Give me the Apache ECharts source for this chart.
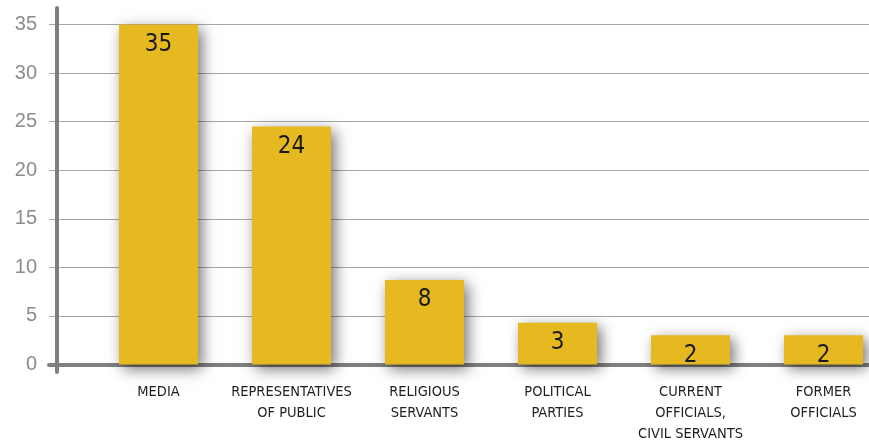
<!DOCTYPE html>
<html>
<head>
<meta charset="utf-8">
<script src="https://cdn.jsdelivr.net/npm/echarts@6/dist/echarts.min.js"></script>
<style>
html,body{margin:0;padding:0;background:#fff;}
#chart{width:869px;height:445px;}
</style>
</head>
<body>
<div id="chart"></div>
<script>
const categories = ['MEDIA', 'REPRESENTATIVES\nOF PUBLIC', 'RELIGIOUS\nSERVANTS', 'POLITICAL\nPARTIES', 'CURRENT\nOFFICIALS,\nCIVIL SERVANTS', 'FORMER\nOFFICIALS'];
const barValues = [35, 24.5, 8.7, 4.3, 3.0, 3.0];
const barLabels = ['35', '24', '8', '3', '2', '2'];
const yMin = 0, yMax = 35, yStep = 5;

const narrow = "'Liberation Sans Narrow', 'DejaVu Sans Condensed', sans-serif";
const chart = echarts.init(document.getElementById('chart'));
chart.setOption({
  animation: false,
  backgroundColor: '#ffffff',
  grid: [
    { left: 92, width: 798, top: 24.5, height: 340, outerBoundsMode: 'none', containLabel: false },
    { left: 49, right: 0, top: 24.5, height: 340, outerBoundsMode: 'none', containLabel: false },
    { left: 57, width: 10, top: 8, height: 364, outerBoundsMode: 'none', containLabel: false }
  ],
  xAxis: [
    {
      type: 'category', gridIndex: 0, data: categories,
      axisLine: { show: false }, axisTick: { show: false },
      axisLabel: { interval: 0, margin: 17, fontSize: 14.5, lineHeight: 21, color: '#1e1e1e', fontFamily: narrow }
    },
    {
      type: 'value', gridIndex: 1, min: 0, max: 1,
      axisLabel: { show: false }, axisTick: { show: false }, splitLine: { show: false },
      axisLine: { show: true, lineStyle: { color: '#7f7f7f', width: 4 } }
    },
    { type: 'value', gridIndex: 2, min: 0, max: 1, show: false }
  ],
  yAxis: [
    { type: 'value', gridIndex: 0, min: yMin, max: yMax, show: false },
    {
      type: 'value', gridIndex: 1, min: yMin, max: yMax, interval: yStep,
      axisLine: { show: false }, axisTick: { show: false },
      splitLine: { lineStyle: { color: '#a8a8a8', width: 1 } },
      axisLabel: { margin: 12, fontSize: 20, color: '#8c8c8c', fontFamily: "'Liberation Sans', sans-serif" }
    },
    {
      type: 'value', gridIndex: 2, min: 0, max: 1,
      axisLabel: { show: false }, axisTick: { show: false }, splitLine: { show: false },
      axisLine: { show: true, lineStyle: { color: '#7f7f7f', width: 4 } }
    }
  ],
  series: [{
    type: 'bar', xAxisIndex: 0, yAxisIndex: 0,
    data: barValues, barWidth: 79,
    itemStyle: { color: '#E7B921', shadowBlur: 14, shadowColor: 'rgba(0,0,0,0.55)', shadowOffsetX: 4, shadowOffsetY: 4 },
    label: {
      show: true, position: 'insideTop', distance: 8,
      formatter: p => barLabels[p.dataIndex],
      fontSize: 24, color: '#1a1a1a', fontFamily: narrow
    }
  }]
});
</script>
</body>
</html>
